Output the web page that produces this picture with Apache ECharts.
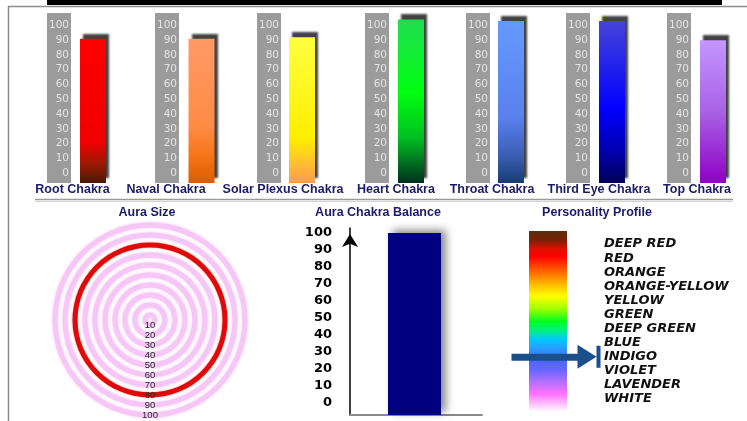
<!DOCTYPE html>
<html>
<head>
<meta charset="utf-8">
<script src="https://cdn.jsdelivr.net/npm/echarts@6/dist/echarts.min.js"></script>
<style>
html,body{margin:0;padding:0;background:#fff}
#chart{width:747px;height:421px}
</style>
</head>
<body>
<div id="chart"></div>
<script>
// ---- data ----
var chakraNames = ['Root Chakra', 'Naval Chakra', 'Solar Plexus Chakra', 'Heart Chakra', 'Throat Chakra', 'Third Eye Chakra', 'Top Chakra'];
var chakraValues = [91, 91, 92, 104, 103, 103, 90];
var chakraTicks = [0, 10, 20, 30, 40, 50, 60, 70, 80, 90, 100];

var auraRings = ['10', '20', '30', '40', '50', '60', '70', '80', '90', '100'];
var auraSize = '80';

var balanceTicks = [0, 10, 20, 30, 40, 50, 60, 70, 80, 90, 100];
var balanceValue = 100;

var personalityColors = ['DEEP RED', 'RED', 'ORANGE', 'ORANGE-YELLOW', 'YELLOW', 'GREEN', 'DEEP GREEN', 'BLUE', 'INDIGO', 'VIOLET', 'LAVENDER', 'WHITE'];
var personalityPick = 'INDIGO';

// ---- layout / styles ----
var chakraGrayLeft = [47, 155, 257, 365, 466, 566, 667];
var chakraBarCenter = [93, 201.5, 302, 411, 511, 612, 713];
var chakraNameCenter = [72.5, 166, 283, 396, 492, 599, 697];
var chakraMin = -6.7, chakraMax = 108.4;
var balanceMin = -7, balanceMax = 103;
var navy = '#1b1b6b';
var sansBold = { fontFamily: 'Liberation Sans, Arial, sans-serif', fontWeight: 'bolder', fontSize: 12.5, color: navy };

var chakraStops = [
    [['#ff0000', 0], ['#f00000', 0.72], ['#a01800', 0.86], ['#4a1a05', 1]],
    [['#ff9a66', 0], ['#ff8c45', 0.6], ['#f57515', 0.82], ['#d85c00', 1]],
    [['#ffff40', 0], ['#ffee00', 0.7], ['#ffc030', 0.86], ['#ff9a50', 1]],
    [['#20dd50', 0], ['#00ff10', 0.45], ['#00c020', 0.72], ['#00301f', 1]],
    [['#6699ff', 0], ['#5a80ee', 0.6], ['#3a5cb0', 0.84], ['#163c70', 1]],
    [['#4444d8', 0], ['#0000ff', 0.55], ['#0000b0', 0.8], ['#00005a', 1]],
    [['#c496ff', 0], ['#a862e6', 0.5], ['#9000c4', 1]]
];

function toGradient(stops) {
    return new echarts.graphic.LinearGradient(0, 0, 0, 1, stops.map(function (s) {
        return { offset: s[1], color: s[0] };
    }));
}

var chart = echarts.init(document.getElementById('chart'));

var grids = [], xAxes = [], yAxes = [], series = [], titles = [];

for (var i = 0; i < chakraNames.length; i++) {
    var gl = chakraGrayLeft[i] + 24;
    grids.push({ left: gl, top: 13, width: 2 * (chakraBarCenter[i] - gl), height: 170 });
    xAxes.push({ gridIndex: i, type: 'category', data: [chakraNames[i]], show: false });
    yAxes.push({
        gridIndex: i, type: 'value', min: chakraMin, max: chakraMax, position: 'left', offset: 12,
        axisLine: { show: true, onZero: false, lineStyle: { color: '#9b9b9b', width: 24, cap: 'butt' } },
        axisTick: { show: false }, splitLine: { show: false },
        axisLabel: {
            customValues: chakraTicks, inside: true, align: 'right', margin: 10,
            color: '#e4e4e4', fontFamily: 'DejaVu Sans', fontSize: 10.5
        }
    });
    series.push({
        type: 'custom', xAxisIndex: i, yAxisIndex: i,
        data: [[chakraNames[i], chakraValues[i]]],
        renderItem: (function (k) {
            return function (params, api) {
                var top = api.coord([api.value(0), api.value(1)]);
                var base = api.coord([api.value(0), chakraMin]);
                return {
                    type: 'rect',
                    shape: { x: top[0] - 13, y: top[1], width: 26, height: base[1] - top[1] },
                    style: {
                        fill: toGradient(chakraStops[k]),
                        shadowBlur: 2, shadowOffsetX: 3, shadowOffsetY: -5,
                        shadowColor: 'rgba(45,45,45,0.9)'
                    }
                };
            };
        })(i)
    });
    titles.push({
        text: chakraNames[i], left: chakraNameCenter[i], top: 183, textAlign: 'center', padding: 0,
        textStyle: sansBold
    });
}

// Aura Chakra Balance (grid 7)
grids.push({ left: 350, top: 228, width: 132, height: 187 });
xAxes.push({
    gridIndex: 7, type: 'category', data: ['Balance'],
    axisLine: { show: true, onZero: false, lineStyle: { color: '#8a8a8a', width: 2 } },
    axisTick: { show: false }, axisLabel: { show: false }
});
yAxes.push({
    gridIndex: 7, type: 'value', min: balanceMin, max: balanceMax,
    axisLine: {
        show: true, onZero: false, symbol: ['none', 'arrow'], symbolSize: [12, 13], symbolOffset: [0, -6],
        lineStyle: { color: '#000', width: 1.5 }
    },
    axisTick: { show: false }, splitLine: { show: false },
    axisLabel: {
        customValues: balanceTicks, margin: 18, color: '#000',
        fontFamily: 'DejaVu Sans', fontWeight: 'bold', fontSize: 13
    }
});
series.push({
    type: 'custom', xAxisIndex: 7, yAxisIndex: 7,
    data: [['Balance', balanceValue]],
    renderItem: function (params, api) {
        var top = api.coord([api.value(0), api.value(1)]);
        var base = api.coord([api.value(0), balanceMin]);
        return {
            type: 'rect',
            shape: { x: top[0] - 28, y: top[1], width: 53, height: base[1] - top[1] },
            style: {
                fill: '#000080', shadowBlur: 8, shadowOffsetX: 5, shadowOffsetY: -3,
                shadowColor: 'rgba(0,0,0,0.45)'
            }
        };
    }
});

// Personality spectrum (grid 8)
grids.push({ left: 529, top: 231, width: 38, height: 181 });
xAxes.push({ gridIndex: 8, type: 'category', data: ['spectrum'], show: false });
yAxes.push({ gridIndex: 8, type: 'value', min: 0, max: 1, show: false });
series.push({
    type: 'bar', xAxisIndex: 8, yAxisIndex: 8, data: [1], barWidth: '100%', silent: true,
    itemStyle: {
        color: toGradient([
            ['#5a2d0c', 0], ['#7a2008', 0.05], ['#e01000', 0.1], ['#ff0000', 0.14], ['#ff6000', 0.22],
            ['#ffc000', 0.3], ['#ffff00', 0.36], ['#a0ff00', 0.43], ['#00ff20', 0.5], ['#00f080', 0.55],
            ['#00c8ff', 0.6], ['#2a9cff', 0.65], ['#4466ff', 0.71], ['#6a66ff', 0.77], ['#b070ff', 0.83],
            ['#ff70ff', 0.9], ['#ffc8ff', 0.96], ['#ffffff', 1]
        ])
    }
});

// Personality labels + arrow (grid 9)
grids.push({ left: 512, top: 237, width: 88, height: 169 });
xAxes.push({ gridIndex: 9, type: 'value', min: 0, max: 100, show: false });
yAxes.push({
    gridIndex: 9, type: 'category', data: personalityColors, inverse: true, position: 'right',
    axisLine: { show: false }, axisTick: { show: false }, splitLine: { show: false },
    axisLabel: {
        interval: 0, margin: 4, align: 'left', color: '#111', fontFamily: 'DejaVu Sans',
        fontWeight: 'bold', fontStyle: 'italic', fontSize: 13
    }
});
series.push({
    type: 'scatter', xAxisIndex: 9, yAxisIndex: 9, data: [[50, personalityPick]],
    symbol: 'path://M0,9L66,9L66,0L85,12L66,24L66,16L0,16Z M85,1L89,1L89,23L85,23Z',
    symbolSize: [89, 24], itemStyle: { color: '#1a4f8b', opacity: 1 }, z: 5
});

// Aura Size rings (polar)
series.push({
    type: 'bar', coordinateSystem: 'polar', barWidth: '50%', silent: true,
    data: auraRings.map(function (r) {
        var hot = r === auraSize;
        return {
            value: 360,
            itemStyle: {
                color: hot ? '#e00808' : '#f6c6f6',
                shadowBlur: hot ? 2 : 3,
                shadowColor: hot ? 'rgba(240,60,60,0.6)' : 'rgba(245,185,245,0.9)'
            }
        };
    })
});

['Aura Size', 'Aura Chakra Balance', 'Personality Profile'].forEach(function (t, k) {
    titles.push({
        text: t, left: [147, 378, 597][k], top: 206, textAlign: 'center', padding: 0,
        textStyle: sansBold
    });
});

chart.setOption({
    animation: false,
    title: titles,
    grid: grids,
    xAxis: xAxes,
    yAxis: yAxes,
    polar: { center: [150, 320], radius: [0, 100] },
    angleAxis: { type: 'value', min: 0, max: 360, startAngle: 270, show: false },
    radiusAxis: {
        type: 'category', data: auraRings, z: 10,
        axisLine: { show: false }, axisTick: { show: false }, splitLine: { show: false },
        axisLabel: { interval: 0, margin: 0, align: 'center', color: '#222', fontFamily: 'Liberation Sans', fontSize: 9.5 }
    },
    series: series,
    graphic: [
        { type: 'rect', shape: { x: 47, y: 0, width: 675, height: 5 }, style: { fill: '#000' }, silent: true },
        { type: 'line', shape: { x1: 8, y1: 6.5, x2: 747, y2: 6.5 }, style: { stroke: '#8c8c8c', lineWidth: 1.5 }, silent: true },
        { type: 'line', shape: { x1: 8.5, y1: 6, x2: 8.5, y2: 421 }, style: { stroke: '#8c8c8c', lineWidth: 1.5 }, silent: true },
        { type: 'line', shape: { x1: 35, y1: 199.5, x2: 733, y2: 199.5 }, style: { stroke: '#9a9a9a', lineWidth: 1.5 }, silent: true },
        { type: 'line', shape: { x1: 35, y1: 201.5, x2: 733, y2: 201.5 }, style: { stroke: '#d4d4d4', lineWidth: 1 }, silent: true }
    ]
});
</script>
</body>
</html>
